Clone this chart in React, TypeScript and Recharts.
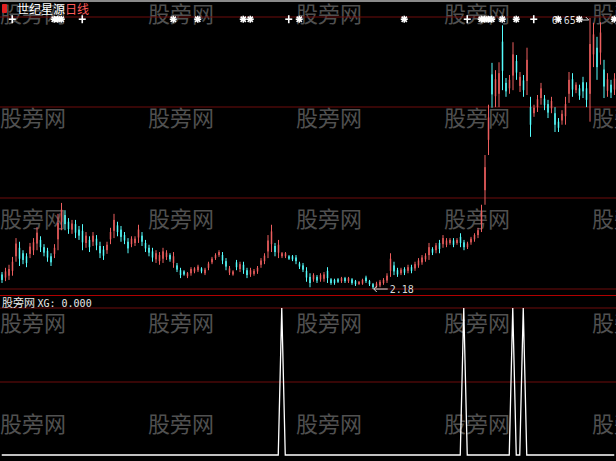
import React from 'react';
import {
  ComposedChart,
  Bar,
  Line,
  XAxis,
  YAxis,
  CartesianGrid,
  ReferenceDot,
} from 'recharts';

// ============================================================================
// Daily bars (世纪星源)
// ============================================================================

const opens = [
  2.42, 2.37, 2.40, 2.48, 2.72, 2.86, 2.77, 2.72, 2.76, 2.82,
  2.93, 2.99, 2.87, 2.81, 2.72, 2.76, 3.00, 3.29, 3.40, 3.29,
  3.16, 3.25, 3.16, 3.14, 2.94, 2.99, 2.96, 3.01, 2.89, 2.83,
  2.82, 3.00, 3.14, 3.23, 3.16, 3.07, 2.96, 2.92, 2.94, 3.03,
  3.06, 2.94, 2.86, 2.80, 2.67, 2.64, 2.68, 2.71, 2.74, 2.61,
  2.57, 2.49, 2.47, 2.39, 2.44, 2.47, 2.49, 2.52, 2.44, 2.53,
  2.62, 2.69, 2.74, 2.74, 2.64, 2.45, 2.42, 2.62, 2.51, 2.58,
  2.49, 2.42, 2.43, 2.47, 2.58, 2.64, 2.80, 2.92, 2.89, 2.78,
  2.72, 2.72, 2.72, 2.72, 2.70, 2.60, 2.57, 2.48, 2.38, 2.34,
  2.38, 2.34, 2.35, 2.48, 2.34, 2.33, 2.34, 2.31, 2.36, 2.31,
  2.34, 2.31, 2.26, 2.27, 2.37, 2.31, 2.26, 2.22, 2.24, 2.28,
  2.32, 2.48, 2.57, 2.49, 2.44, 2.51, 2.48, 2.54, 2.52, 2.57,
  2.62, 2.67, 2.74, 2.84, 2.82, 2.94, 2.92, 2.91, 2.94, 2.98,
  2.94, 3.04, 2.95, 2.87, 2.95, 3.00, 3.07, 3.25, 3.81, 4.64,
  5.72, 5.36, 5.40, 6.26, 5.58, 5.49, 5.70, 5.94, 5.53, 5.62,
  5.61, 5.18, 5.08, 5.18, 5.33, 5.32, 5.23, 5.16, 5.08, 4.94,
  4.96, 5.03, 5.40, 5.64, 5.46, 5.49, 5.59, 5.49, 5.40, 6.05,
  6.16, 6.08, 5.80, 5.45, 5.55, 5.47,
];

const highs = [
  2.46, 2.53, 2.58, 2.71, 3.02, 2.96, 2.82, 2.77, 2.94, 3.02,
  3.20, 3.05, 2.92, 2.86, 2.77, 2.92, 3.42, 3.60, 3.48, 3.35,
  3.32, 3.32, 3.22, 3.25, 3.12, 3.05, 3.12, 3.07, 2.96, 2.89,
  2.96, 3.19, 3.42, 3.29, 3.22, 3.12, 3.02, 3.05, 3.05, 3.24,
  3.12, 2.99, 2.91, 2.86, 2.82, 2.79, 2.86, 2.82, 2.77, 2.79,
  2.61, 2.53, 2.49, 2.46, 2.54, 2.54, 2.58, 2.54, 2.53, 2.63,
  2.71, 2.77, 2.82, 2.79, 2.69, 2.56, 2.49, 2.66, 2.63, 2.63,
  2.53, 2.53, 2.51, 2.56, 2.69, 2.77, 3.07, 3.24, 2.94, 2.99,
  2.79, 2.79, 2.74, 2.74, 2.74, 2.63, 2.61, 2.54, 2.44, 2.44,
  2.41, 2.44, 2.46, 2.54, 2.36, 2.35, 2.36, 2.38, 2.38, 2.38,
  2.36, 2.33, 2.31, 2.35, 2.40, 2.33, 2.28, 2.30, 2.33, 2.36,
  2.44, 2.77, 2.63, 2.53, 2.53, 2.54, 2.58, 2.58, 2.63, 2.69,
  2.74, 2.77, 2.94, 2.87, 2.94, 2.99, 3.07, 3.02, 3.02, 3.02,
  3.02, 3.10, 2.99, 2.96, 3.04, 3.10, 3.19, 3.57, 4.39, 5.22,
  5.91, 5.79, 5.92, 6.53, 5.66, 5.71, 6.25, 6.04, 5.76, 5.71,
  6.16, 5.35, 5.22, 5.38, 5.58, 5.38, 5.30, 5.35, 5.18, 5.00,
  5.13, 5.35, 5.76, 5.74, 5.59, 5.55, 5.68, 5.59, 6.65, 6.57,
  6.34, 6.58, 5.96, 5.74, 5.63, 5.74,
];

const lows = [
  2.28, 2.31, 2.33, 2.40, 2.63, 2.56, 2.59, 2.54, 2.69, 2.74,
  2.82, 2.79, 2.72, 2.63, 2.56, 2.69, 2.82, 3.15, 3.15, 3.09,
  3.09, 3.02, 2.99, 2.82, 2.86, 2.79, 2.89, 2.82, 2.69, 2.66,
  2.76, 2.92, 3.02, 3.05, 2.96, 2.92, 2.77, 2.87, 2.89, 2.94,
  2.89, 2.79, 2.72, 2.63, 2.61, 2.58, 2.61, 2.66, 2.63, 2.53,
  2.46, 2.36, 2.40, 2.36, 2.40, 2.44, 2.46, 2.44, 2.41, 2.49,
  2.59, 2.66, 2.71, 2.59, 2.49, 2.41, 2.40, 2.49, 2.46, 2.43,
  2.36, 2.38, 2.40, 2.43, 2.53, 2.59, 2.69, 2.79, 2.72, 2.69,
  2.69, 2.69, 2.66, 2.64, 2.59, 2.51, 2.46, 2.30, 2.21, 2.30,
  2.28, 2.30, 2.30, 2.28, 2.25, 2.25, 2.28, 2.28, 2.28, 2.28,
  2.25, 2.23, 2.25, 2.25, 2.28, 2.23, 2.18, 2.20, 2.21, 2.25,
  2.28, 2.38, 2.41, 2.38, 2.41, 2.41, 2.44, 2.44, 2.48, 2.53,
  2.58, 2.63, 2.66, 2.74, 2.77, 2.77, 2.86, 2.87, 2.91, 2.87,
  2.91, 2.87, 2.82, 2.84, 2.91, 2.96, 3.02, 3.12, 3.57, 4.39,
  5.17, 5.18, 5.18, 5.46, 5.35, 5.40, 5.46, 5.63, 5.43, 5.35,
  5.38, 4.69, 5.02, 5.10, 5.22, 5.13, 5.00, 5.08, 4.77, 4.77,
  4.89, 4.89, 5.25, 5.35, 5.41, 5.30, 5.33, 5.18, 4.94, 5.84,
  5.63, 5.88, 5.33, 5.35, 5.33, 5.38,
];

const closes = [
  2.33, 2.47, 2.51, 2.63, 2.93, 2.68, 2.66, 2.61, 2.88, 2.95,
  3.11, 2.87, 2.78, 2.70, 2.62, 2.86, 3.27, 3.49, 3.25, 3.17,
  3.26, 3.11, 3.06, 2.95, 3.06, 2.87, 3.06, 2.90, 2.77, 2.73,
  2.91, 3.12, 3.32, 3.12, 3.04, 2.98, 2.85, 3.01, 3.01, 3.16,
  2.96, 2.85, 2.78, 2.70, 2.77, 2.74, 2.80, 2.78, 2.67, 2.72,
  2.50, 2.41, 2.42, 2.44, 2.51, 2.52, 2.55, 2.47, 2.50, 2.60,
  2.68, 2.74, 2.79, 2.65, 2.55, 2.52, 2.47, 2.54, 2.59, 2.49,
  2.41, 2.49, 2.48, 2.53, 2.65, 2.73, 2.98, 3.13, 2.79, 2.91,
  2.77, 2.77, 2.68, 2.67, 2.64, 2.55, 2.50, 2.37, 2.28, 2.41,
  2.32, 2.41, 2.42, 2.36, 2.28, 2.28, 2.30, 2.36, 2.31, 2.36,
  2.28, 2.26, 2.30, 2.33, 2.31, 2.26, 2.21, 2.27, 2.30, 2.33,
  2.40, 2.68, 2.47, 2.42, 2.50, 2.45, 2.54, 2.48, 2.59, 2.65,
  2.70, 2.73, 2.87, 2.78, 2.90, 2.84, 3.02, 2.98, 2.99, 2.91,
  2.99, 2.94, 2.87, 2.93, 3.01, 3.07, 3.15, 3.46, 4.19, 5.01,
  5.39, 5.64, 5.74, 5.78, 5.44, 5.63, 6.05, 5.75, 5.68, 5.46,
  5.96, 4.89, 5.17, 5.31, 5.49, 5.21, 5.09, 5.28, 4.89, 4.84,
  5.07, 5.23, 5.63, 5.47, 5.55, 5.37, 5.44, 5.30, 6.22, 6.38,
  5.84, 6.41, 5.52, 5.64, 5.42, 5.65,
];

// Signal rows along the top of the price panel (bar indices)
const plusMarks = [3, 23, 82, 133, 152];
const starMarks = [15, 16, 17, 49, 56, 69, 71, 85, 115, 137, 138, 139, 140, 143, 147, 159, 165, 175];

// XG indicator: bars where the signal fires
const xgSignals = [80, 132, 146, 149];

// ============================================================================
// Styling constants
// ============================================================================

const UP = '#ec5e5e';
const DOWN = '#54fcfc';
const GRID = '#6e0c0c';
const MARK_ROW = 6.63;
const PRICE_DOMAIN: [number, number] = [2.065, 6.947];
const XG_DOMAIN: [number, number] = [-0.041, 1.075];
const W = 616;
const TOP_H = 296;
const BOTTOM_H = 164;

const candles = opens.map((open, i) => ({
  i,
  open,
  high: highs[i],
  low: lows[i],
  close: closes[i],
  range: [lows[i], highs[i]],
  mark: plusMarks.includes(i) || starMarks.includes(i) ? MARK_ROW : null,
  markType: plusMarks.includes(i) ? '+' : starMarks.includes(i) ? '*' : null,
}));

const xgData = opens.map((_, i) => ({ i, xg: xgSignals.includes(i) ? 1 : 0 }));

const maxHigh = Math.max(...highs);
const maxIdx = highs.indexOf(maxHigh);
const minLow = Math.min(...lows);
const minIdx = lows.indexOf(minLow);

// ============================================================================
// Shapes
// ============================================================================

function Candle(props: any) {
  const { x, y, width, height, payload } = props;
  if (!payload || height == null) return null;
  const top = Math.min(y, y + height);
  const h = Math.abs(height);
  const { open, close, high, low } = payload;
  const k = high - low > 0 ? h / (high - low) : 0;
  const yO = top + (high - open) * k;
  const yC = top + (high - close) * k;
  const color = close >= open ? UP : DOWN;
  const cx = x + width / 2;
  return (
    <g>
      <line x1={cx} x2={cx} y1={top} y2={top + h} stroke={color} strokeWidth={1} />
      <rect
        x={cx - 0.75}
        y={Math.min(yO, yC)}
        width={1.5}
        height={Math.max(1, Math.abs(yC - yO))}
        fill={color}
      />
    </g>
  );
}

function SignalMark(props: any) {
  const { cx, cy, payload, index } = props;
  const key = `mk-${index}`;
  if (!payload || !payload.markType || cx == null || cy == null) return <g key={key} />;
  if (payload.markType === '+') {
    return (
      <g key={key} stroke="#ffffff" strokeWidth={1.6}>
        <line x1={cx - 3.5} x2={cx + 3.5} y1={cy} y2={cy} />
        <line x1={cx} x2={cx} y1={cy - 4} y2={cy + 4} />
      </g>
    );
  }
  return (
    <g key={key} stroke="#ffffff" strokeWidth={1.6}>
      <line x1={cx - 3.5} x2={cx + 3.5} y1={cy} y2={cy} />
      <line x1={cx} x2={cx} y1={cy - 3.5} y2={cy + 3.5} />
      <line x1={cx - 2.6} x2={cx + 2.6} y1={cy - 2.6} y2={cy + 2.6} />
      <line x1={cx - 2.6} x2={cx + 2.6} y1={cy + 2.6} y2={cy - 2.6} />
    </g>
  );
}

function HighLabel(props: any) {
  const { cx, cy } = props;
  return (
    <g>
      <text
        x={cx - 14}
        y={cy + 6}
        textAnchor="end"
        fill="#d8d8d8"
        fontSize={10}
        fontFamily="'DejaVu Sans Mono', monospace"
      >
        {maxHigh.toFixed(2)}
      </text>
      <line x1={cx - 12} x2={cx - 1} y1={cy + 2} y2={cy + 2} stroke="#d8d8d8" strokeWidth={1} />
      <path d={`M${cx - 4},${cy - 1} L${cx - 1},${cy + 2}`} stroke="#d8d8d8" strokeWidth={1} fill="none" />
    </g>
  );
}

function LowLabel(props: any) {
  const { cx, cy } = props;
  return (
    <g>
      <line x1={cx + 1} x2={cx + 15} y1={cy} y2={cy} stroke="#d8d8d8" strokeWidth={1} />
      <path
        d={`M${cx + 4},${cy - 3} L${cx + 1},${cy} L${cx + 4},${cy + 3}`}
        stroke="#d8d8d8"
        strokeWidth={1}
        fill="none"
      />
      <text
        x={cx + 17}
        y={cy + 4}
        fill="#d8d8d8"
        fontSize={10}
        fontFamily="'DejaVu Sans Mono', monospace"
      >
        {minLow.toFixed(2)}
      </text>
    </g>
  );
}

// ============================================================================
// Component
// ============================================================================

const watermarkRows = [1, 105, 206, 310, 411];
const watermarkCols = [0, 148, 296, 444, 592];

export default function App() {
  return (
    <div
      style={{
        position: 'absolute',
        left: 0,
        top: 0,
        width: W,
        height: 461,
        background: '#000000',
        overflow: 'hidden',
        fontFamily: "'Noto Sans CJK SC', sans-serif",
      }}
    >
      {/* watermark grid */}
      {watermarkRows.map((top) =>
        watermarkCols.map((left) => (
          <div
            key={`${top}-${left}`}
            style={{
              position: 'absolute',
              top,
              left,
              fontSize: 22,
              lineHeight: '22px',
              color: '#505050',
              whiteSpace: 'nowrap',
            }}
          >
            股旁网
          </div>
        ))
      )}

      {/* price panel */}
      <div style={{ position: 'absolute', left: 0, top: 0 }}>
        <ComposedChart
          width={W}
          height={TOP_H}
          data={candles}
          margin={{ top: 0, right: 0, bottom: 0, left: 0 }}
          barCategoryGap={0}
        >
          <CartesianGrid horizontalPoints={[17, 107, 198, 289]} vertical={false} stroke={GRID} />
          <XAxis dataKey="i" hide scale="band" />
          <YAxis hide domain={PRICE_DOMAIN} allowDataOverflow />
          <Bar dataKey="range" shape={Candle} isAnimationActive={false} />
          <Line
            dataKey="mark"
            stroke="none"
            dot={SignalMark}
            activeDot={false}
            isAnimationActive={false}
          />
          <ReferenceDot x={maxIdx} y={maxHigh} r={2} shape={HighLabel} />
          <ReferenceDot x={minIdx} y={minLow} r={2} shape={LowLabel} />
        </ComposedChart>
      </div>

      {/* title strip */}
      <div style={{ position: 'absolute', left: 0, top: 0, width: W, height: 2, background: '#8a8a8a' }} />
      <div
        style={{
          position: 'absolute',
          left: 2,
          top: 4,
          width: 5,
          height: 9,
          background: '#e02020',
          borderRadius: 1,
        }}
      />
      <div
        style={{
          position: 'absolute',
          left: 17,
          top: 1,
          fontSize: 12,
          lineHeight: '16px',
          whiteSpace: 'nowrap',
        }}
      >
        <span style={{ color: '#ffffff' }}>世纪星源</span>
        <span style={{ color: '#ff5a5a' }}>日线</span>
      </div>

      {/* panel separator */}
      <div style={{ position: 'absolute', left: 0, top: 295, width: W, height: 1, background: '#b00000' }} />

      {/* XG panel */}
      <div style={{ position: 'absolute', left: 0, top: 297 }}>
        <ComposedChart
          width={W}
          height={BOTTOM_H}
          data={xgData}
          margin={{ top: 0, right: 0, bottom: 0, left: 0 }}
        >
          <CartesianGrid horizontalPoints={[11, 85]} vertical={false} stroke={GRID} />
          <XAxis dataKey="i" hide scale="band" />
          <YAxis hide domain={XG_DOMAIN} allowDataOverflow />
          <Line
            type="linear"
            dataKey="xg"
            stroke="#ffffff"
            strokeWidth={1.3}
            dot={false}
            activeDot={false}
            isAnimationActive={false}
          />
        </ComposedChart>
      </div>
      <div
        style={{
          position: 'absolute',
          left: 2,
          top: 296,
          fontSize: 11,
          lineHeight: '13px',
          color: '#e8e8e8',
          whiteSpace: 'nowrap',
        }}
      >
        股旁网{' '}
        <span style={{ fontFamily: "'DejaVu Sans Mono', monospace", fontSize: 10 }}>
          XG: {(0).toFixed(3)}
        </span>
      </div>
    </div>
  );
}
